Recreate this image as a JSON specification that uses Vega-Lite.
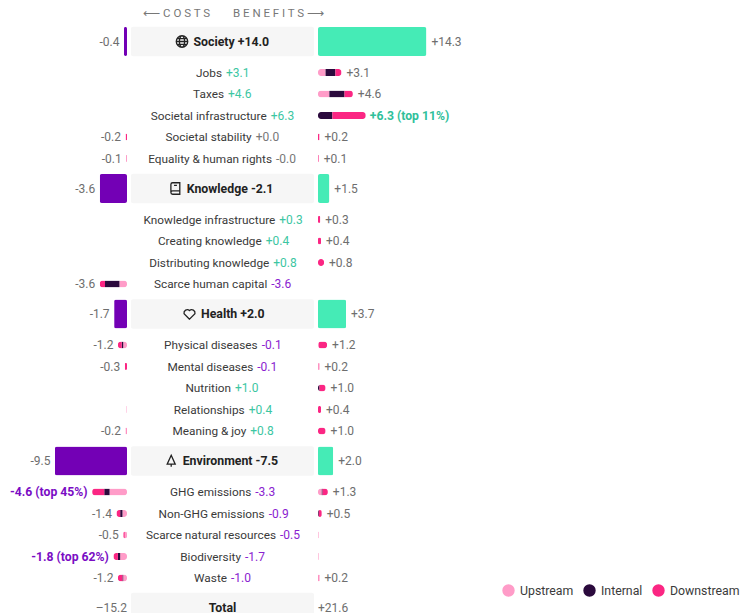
{"$schema":"https://vega.github.io/schema/vega-lite/v6.json","padding":0,"spacing":4,"bounds":"flush","background":"white","config":{"view":{"stroke":null},"font":"Roboto"},"resolve":{"scale":{"color":"independent"}},
"datasets":{
"rows":[
{"row":1,"kind":"head","name":"Society +14.0","cost":-0.4,"benefit":14.3,"costLabel":"-0.4","benefitLabel":"+14.3"},
{"row":2,"kind":"item","name":"Jobs","net":"+3.1","sign":"pos","benefit":3.1,"benefitLabel":"+3.1"},
{"row":3,"kind":"item","name":"Taxes","net":"+4.6","sign":"pos","benefit":4.6,"benefitLabel":"+4.6"},
{"row":4,"kind":"item","name":"Societal infrastructure","net":"+6.3","sign":"pos","benefit":6.3,"benefitLabel":"+6.3 (top 11%)","top":"benefit"},
{"row":5,"kind":"item","name":"Societal stability","net":"+0.0","sign":"zero","cost":-0.2,"benefit":0.2,"costLabel":"-0.2","benefitLabel":"+0.2"},
{"row":6,"kind":"item","name":"Equality & human rights","net":"-0.0","sign":"zero","cost":-0.1,"benefit":0.1,"costLabel":"-0.1","benefitLabel":"+0.1"},
{"row":7,"kind":"head","name":"Knowledge -2.1","cost":-3.6,"benefit":1.5,"costLabel":"-3.6","benefitLabel":"+1.5"},
{"row":8,"kind":"item","name":"Knowledge infrastructure","net":"+0.3","sign":"pos","benefit":0.3,"benefitLabel":"+0.3"},
{"row":9,"kind":"item","name":"Creating knowledge","net":"+0.4","sign":"pos","benefit":0.4,"benefitLabel":"+0.4"},
{"row":10,"kind":"item","name":"Distributing knowledge","net":"+0.8","sign":"pos","benefit":0.8,"benefitLabel":"+0.8"},
{"row":11,"kind":"item","name":"Scarce human capital","net":"-3.6","sign":"neg","cost":-3.6,"costLabel":"-3.6"},
{"row":12,"kind":"head","name":"Health +2.0","cost":-1.7,"benefit":3.7,"costLabel":"-1.7","benefitLabel":"+3.7"},
{"row":13,"kind":"item","name":"Physical diseases","net":"-0.1","sign":"neg","cost":-1.2,"benefit":1.2,"costLabel":"-1.2","benefitLabel":"+1.2"},
{"row":14,"kind":"item","name":"Mental diseases","net":"-0.1","sign":"neg","cost":-0.3,"benefit":0.2,"costLabel":"-0.3","benefitLabel":"+0.2"},
{"row":15,"kind":"item","name":"Nutrition","net":"+1.0","sign":"pos","benefit":1.0,"benefitLabel":"+1.0"},
{"row":16,"kind":"item","name":"Relationships","net":"+0.4","sign":"pos","benefit":0.4,"benefitLabel":"+0.4"},
{"row":17,"kind":"item","name":"Meaning & joy","net":"+0.8","sign":"pos","cost":-0.2,"benefit":1.0,"costLabel":"-0.2","benefitLabel":"+1.0"},
{"row":18,"kind":"head","name":"Environment -7.5","cost":-9.5,"benefit":2.0,"costLabel":"-9.5","benefitLabel":"+2.0"},
{"row":19,"kind":"item","name":"GHG emissions","net":"-3.3","sign":"neg","cost":-4.6,"benefit":1.3,"costLabel":"-4.6 (top 45%)","benefitLabel":"+1.3","top":"cost"},
{"row":20,"kind":"item","name":"Non-GHG emissions","net":"-0.9","sign":"neg","cost":-1.4,"benefit":0.5,"costLabel":"-1.4","benefitLabel":"+0.5"},
{"row":21,"kind":"item","name":"Scarce natural resources","net":"-0.5","sign":"neg","cost":-0.5,"costLabel":"-0.5"},
{"row":22,"kind":"item","name":"Biodiversity","net":"-1.7","sign":"neg","cost":-1.8,"costLabel":"-1.8 (top 62%)","top":"cost"},
{"row":23,"kind":"item","name":"Waste","net":"-1.0","sign":"neg","cost":-1.2,"benefit":0.2,"costLabel":"-1.2","benefitLabel":"+0.2"},
{"row":24,"kind":"total","name":"Total","costLabel":"–15.2","benefitLabel":"+21.6"}
],
"costSegs":[
{"row":5,"stage":"Downstream","rank":3,"value":-0.2},
{"row":6,"stage":"Downstream","rank":3,"value":-0.1},
{"row":11,"stage":"Upstream","rank":1,"value":-1.0},{"row":11,"stage":"Internal","rank":2,"value":-1.9},{"row":11,"stage":"Downstream","rank":3,"value":-0.7},
{"row":13,"stage":"Upstream","rank":1,"value":-0.5},{"row":13,"stage":"Internal","rank":2,"value":-0.2},{"row":13,"stage":"Downstream","rank":3,"value":-0.5},
{"row":14,"stage":"Downstream","rank":3,"value":-0.3},
{"row":16,"stage":"Upstream","rank":1,"value":-0.1},
{"row":17,"stage":"Upstream","rank":1,"value":-0.1},{"row":17,"stage":"Downstream","rank":3,"value":-0.1},
{"row":19,"stage":"Upstream","rank":1,"value":-2.3},{"row":19,"stage":"Internal","rank":2,"value":-0.7},{"row":19,"stage":"Downstream","rank":3,"value":-1.6},
{"row":20,"stage":"Upstream","rank":1,"value":-0.6},{"row":20,"stage":"Internal","rank":2,"value":-0.3},{"row":20,"stage":"Downstream","rank":3,"value":-0.5},
{"row":21,"stage":"Upstream","rank":1,"value":-0.3},{"row":21,"stage":"Downstream","rank":3,"value":-0.2},
{"row":22,"stage":"Upstream","rank":1,"value":-0.9},{"row":22,"stage":"Internal","rank":2,"value":-0.3},{"row":22,"stage":"Downstream","rank":3,"value":-0.6},
{"row":23,"stage":"Upstream","rank":1,"value":-0.5},{"row":23,"stage":"Internal","rank":2,"value":-0.1},{"row":23,"stage":"Downstream","rank":3,"value":-0.6}
],
"benefitSegs":[
{"row":2,"stage":"Upstream","rank":1,"value":1.0},{"row":2,"stage":"Internal","rank":2,"value":1.3},{"row":2,"stage":"Downstream","rank":3,"value":0.8},
{"row":3,"stage":"Upstream","rank":1,"value":1.5},{"row":3,"stage":"Internal","rank":2,"value":2.0},{"row":3,"stage":"Downstream","rank":3,"value":1.1},
{"row":4,"stage":"Internal","rank":2,"value":1.9},{"row":4,"stage":"Downstream","rank":3,"value":4.4},
{"row":5,"stage":"Downstream","rank":3,"value":0.2},
{"row":6,"stage":"Downstream","rank":3,"value":0.1},
{"row":8,"stage":"Downstream","rank":3,"value":0.3},
{"row":9,"stage":"Downstream","rank":3,"value":0.4},
{"row":10,"stage":"Downstream","rank":3,"value":0.8},
{"row":13,"stage":"Upstream","rank":1,"value":0.1},{"row":13,"stage":"Downstream","rank":3,"value":1.1},
{"row":14,"stage":"Upstream","rank":1,"value":0.1},{"row":14,"stage":"Downstream","rank":3,"value":0.1},
{"row":15,"stage":"Internal","rank":2,"value":0.2},{"row":15,"stage":"Downstream","rank":3,"value":0.8},
{"row":16,"stage":"Downstream","rank":3,"value":0.4},
{"row":17,"stage":"Downstream","rank":3,"value":1.0},
{"row":19,"stage":"Upstream","rank":1,"value":0.5},{"row":19,"stage":"Internal","rank":2,"value":0.1},{"row":19,"stage":"Downstream","rank":3,"value":0.7},
{"row":20,"stage":"Internal","rank":2,"value":0.1},{"row":20,"stage":"Downstream","rank":3,"value":0.4},
{"row":21,"stage":"Upstream","rank":1,"value":0.1},
{"row":22,"stage":"Upstream","rank":1,"value":0.1},
{"row":23,"stage":"Upstream","rank":1,"value":0.1},{"row":23,"stage":"Downstream","rank":3,"value":0.1}
]},
"hconcat":[
{"width":127,"height":613,"layer":[
{"data":{"name":"rows"},"transform":[{"filter":"datum.kind==='head'"}],"mark":{"type":"bar","orient":"horizontal","size":29,"cornerRadius":2,"color":"#7300B5"},"encoding":{"x":{"field":"cost","type":"quantitative","axis":null,"scale":{"domain":[-16.75,0],"nice":false,"zero":false,"padding":0}},"y":{"field":"row","type":"quantitative","axis":null,"scale":{"padding":0,"domain":[0,1,2,3,4,5,6,7,8,9,10,11,12,13,14,15,16,17,18,19,20,21,22,23,24],"range":[14,41.5,72.5,94,115.5,137,158.5,188.5,219.5,241,262.5,284,314,345,366.5,388,409.5,431,461,492,513.5,535,556.5,578,607.5]}}}},
{"data":{"name":"costSegs"},"mark":{"type":"bar","orient":"horizontal","size":7,"cornerRadius":3},"encoding":{"x":{"field":"value","type":"quantitative","axis":null,"stack":"zero"},"y":{"field":"row","type":"quantitative","axis":null},"color":{"field":"stage","type":"nominal","legend":null,"scale":{"domain":["Upstream","Internal","Downstream"],"range":["#FF9CC8","#2B0A3D","#FB2683"]}},"order":{"field":"rank","type":"quantitative"}}},
{"data":{"name":"rows"},"transform":[{"filter":"datum.kind!=='total' && isValid(datum.costLabel) && datum.top!=='cost'"}],"mark":{"type":"text","align":"right","baseline":"middle","dx":-4.5,"fontSize":12,"color":"#6E6E6E"},"encoding":{"x":{"field":"cost","type":"quantitative"},"y":{"field":"row","type":"quantitative"},"text":{"field":"costLabel"}}},
{"data":{"name":"rows"},"transform":[{"filter":"datum.top==='cost'"}],"mark":{"type":"text","align":"right","baseline":"middle","dx":-4.5,"fontSize":12.2,"fontWeight":"bold","color":"#7A0CC4"},"encoding":{"x":{"field":"cost","type":"quantitative"},"y":{"field":"row","type":"quantitative"},"text":{"field":"costLabel"}}},
{"data":{"name":"rows"},"transform":[{"filter":"datum.kind==='total'"}],"mark":{"type":"text","align":"right","baseline":"middle","fontSize":12,"color":"#6E6E6E"},"encoding":{"x":{"datum":0},"y":{"field":"row","type":"quantitative"},"text":{"field":"costLabel"}}}
]},
{"width":183,"height":613,"layer":[
{"data":{"name":"rows"},"transform":[{"filter":"datum.kind!=='item'"}],"mark":{"type":"bar","orient":"horizontal","size":29.5,"cornerRadius":2,"color":"#F6F6F6"},"encoding":{"y":{"field":"row","type":"quantitative","axis":null,"scale":{"padding":0,"domain":[0,1,2,3,4,5,6,7,8,9,10,11,12,13,14,15,16,17,18,19,20,21,22,23,24],"range":[14,41.5,72.5,94,115.5,137,158.5,188.5,219.5,241,262.5,284,314,345,366.5,388,409.5,431,461,492,513.5,535,556.5,578,607.5]}}}},
{"data":{"values":[{"row":0,"costs":"⟵ C O S T S"}]},"mark":{"type":"text","align":"right","baseline":"middle","dx":-11.5,"fontSize":11.5,"color":"#777777"},"encoding":{"x":{"field":"row","type":"quantitative","axis":null,"scale":{"padding":0,"domain":[0,1,2,3,4,5,6,7,8,9,10,11,12,13,14,15,16,17,18,19,20,21,22,23,24],"range":[90.5,62.5,91,93,135.7,120.7,141,55.7,144.3,130.7,138.3,136.3,70,126.7,122.3,100,113.7,115.3,51.7,120.3,133.7,145,110,96,77.7]}},"y":{"field":"row","type":"quantitative"},"text":{"field":"costs"}}},
{"data":{"values":[{"row":0,"benefits":"B E N E F I T S ⟶"}]},"mark":{"type":"text","align":"left","baseline":"middle","dx":11.5,"fontSize":11.5,"color":"#777777"},"encoding":{"x":{"field":"row","type":"quantitative"},"y":{"field":"row","type":"quantitative"},"text":{"field":"benefits"}}},
{"data":{"name":"rows"},"transform":[{"filter":"datum.kind==='item'"}],"mark":{"type":"text","align":"right","baseline":"middle","fontSize":11.8,"color":"#3A3A3A"},"encoding":{"x":{"field":"row","type":"quantitative"},"y":{"field":"row","type":"quantitative"},"text":{"field":"name"}}},
{"data":{"name":"rows"},"transform":[{"filter":"datum.kind==='item'"}],"mark":{"type":"text","align":"left","baseline":"middle","dx":4,"fontSize":12},"encoding":{"x":{"field":"row","type":"quantitative"},"y":{"field":"row","type":"quantitative"},"text":{"field":"net"},"color":{"field":"sign","type":"nominal","legend":null,"scale":{"domain":["pos","neg","zero"],"range":["#3CC6A2","#8A22D0","#777777"]}}}},
{"data":{"name":"rows"},"transform":[{"filter":"datum.kind==='head' || datum.kind==='total'"}],"mark":{"type":"text","align":"left","baseline":"middle","fontSize":12.3,"fontWeight":"bold","color":"#222222"},"encoding":{"x":{"field":"row","type":"quantitative"},"y":{"field":"row","type":"quantitative"},"text":{"field":"name"}}},
{"data":{"name":"rows"},"transform":[{"filter":"datum.kind==='head'"}],"mark":{"type":"point","filled":false,"strokeWidth":1.3,"color":"#222222","xOffset":-11.5,"size":132,"opacity":1},"encoding":{"x":{"field":"row","type":"quantitative"},"y":{"field":"row","type":"quantitative"},"shape":{"field":"row","type":"nominal","legend":null,"scale":{"domain":[1,7,12,18],"range":["M-1,0A1,1 0 1,1 1,0A1,1 0 1,1 -1,0ZM0,-1A0.45,1 0 1,1 0,1A0.45,1 0 1,1 0,-1ZM-1,0L1,0M-0.85,-0.5L0.85,-0.5M-0.85,0.5L0.85,0.5","M-0.75,0.65L-0.75,-0.7Q-0.75,-1 -0.45,-1L0.8,-1L0.8,1L-0.45,1Q-0.75,1 -0.75,0.7Q-0.75,0.4 -0.45,0.4L0.8,0.4M-0.2,-0.55L0.3,-0.55","M0,0.9L-0.95,-0.05A0.58,0.58 0 0,1 0,-0.6A0.58,0.58 0 0,1 0.95,-0.05Z","M0,-1L0.7,0.55L-0.7,0.55ZM0,0.55L0,1"]}}}}
]},
{"width":429,"height":613,"layer":[
{"data":{"name":"rows"},"transform":[{"filter":"datum.kind==='head'"}],"mark":{"type":"bar","orient":"horizontal","size":29,"cornerRadius":2,"color":"#45EBB6"},"encoding":{"x":{"field":"benefit","type":"quantitative","axis":null,"scale":{"domain":[0,56.6],"nice":false,"zero":false,"padding":0}},"y":{"field":"row","type":"quantitative","axis":null,"scale":{"padding":0,"domain":[0,1,2,3,4,5,6,7,8,9,10,11,12,13,14,15,16,17,18,19,20,21,22,23,24],"range":[14,41.5,72.5,94,115.5,137,158.5,188.5,219.5,241,262.5,284,314,345,366.5,388,409.5,431,461,492,513.5,535,556.5,578,607.5]}}}},
{"data":{"name":"benefitSegs"},"mark":{"type":"bar","orient":"horizontal","size":7,"cornerRadius":3},"encoding":{"x":{"field":"value","type":"quantitative","axis":null,"stack":"zero"},"y":{"field":"row","type":"quantitative","axis":null},"color":{"field":"stage","type":"nominal","title":null,"scale":{"domain":["Upstream","Internal","Downstream"],"range":["#FF9CC8","#2B0A3D","#FB2683"]},"legend":{"orient":"none","legendX":184,"legendY":584,"direction":"horizontal","columns":3,"gridAlign":"none","symbolType":"circle","symbolSize":154,"symbolStrokeWidth":0,"symbolOpacity":1,"labelFontSize":12.3,"labelColor":"#3A3A3A","columnPadding":9,"labelOffset":5}},"order":{"field":"rank","type":"quantitative"}}},
{"data":{"name":"rows"},"transform":[{"filter":"datum.kind!=='total' && isValid(datum.benefitLabel) && datum.top!=='benefit'"}],"mark":{"type":"text","align":"left","baseline":"middle","dx":5,"fontSize":12,"color":"#6E6E6E"},"encoding":{"x":{"field":"benefit","type":"quantitative"},"y":{"field":"row","type":"quantitative"},"text":{"field":"benefitLabel"}}},
{"data":{"name":"rows"},"transform":[{"filter":"datum.top==='benefit'"}],"mark":{"type":"text","align":"left","baseline":"middle","dx":4,"fontSize":12.2,"fontWeight":"bold","color":"#2FC09A"},"encoding":{"x":{"field":"benefit","type":"quantitative"},"y":{"field":"row","type":"quantitative"},"text":{"field":"benefitLabel"}}},
{"data":{"name":"rows"},"transform":[{"filter":"datum.kind==='total'"}],"mark":{"type":"text","align":"left","baseline":"middle","fontSize":12,"color":"#6E6E6E"},"encoding":{"x":{"datum":0},"y":{"field":"row","type":"quantitative"},"text":{"field":"benefitLabel"}}}
]}
]}
